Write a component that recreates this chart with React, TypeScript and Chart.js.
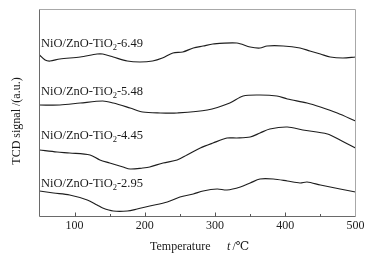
import React, { useEffect, useRef } from "react";
import { Chart, registerables } from "chart.js";

Chart.register(...registerables);

// Temperature (°C) and TCD signal (a.u., arbitrary offset units) for each sample
const x649 = [50, 58, 65, 79, 108, 132, 140, 155, 175, 193, 211, 225, 240, 254, 269, 283, 297, 331, 350, 364, 374, 397, 421, 435, 450, 464, 482, 500];
const y649 = [161.5, 156.5, 155.5, 157.5, 159.5, 162.5, 162.5, 159.5, 155.5, 154.5, 155.5, 158.5, 163.5, 164.5, 168.5, 170.5, 172.5, 173.5, 169.5, 168.5, 170.5, 170.5, 168.5, 165.5, 162.5, 159.5, 158.5, 159.5];

const x548 = [50, 79, 108, 140, 155, 179, 197, 222, 246, 289, 321, 340, 364, 388, 403, 431, 450, 474, 500];
const y548 = [111.5, 111.5, 113.5, 115.5, 113.5, 108.5, 104.5, 103.5, 103.5, 106.5, 113.5, 120.5, 121.5, 120.5, 117.5, 113.5, 109.5, 103.5, 95.5];

const x445 = [50, 75, 93, 122, 136, 150, 169, 179, 197, 207, 226, 246, 260, 279, 297, 317, 331, 350, 364, 378, 403, 425, 460, 478, 500];
const y445 = [66.5, 64.5, 63.5, 61.5, 56.5, 53.5, 49.5, 47.5, 48.5, 49.5, 53.5, 56.5, 61.5, 68.5, 73.5, 78.5, 78.5, 79.5, 83.5, 87.5, 89.5, 86.5, 82.5, 76.5, 68.5];

const x295 = [50, 70, 93, 118, 132, 140, 155, 175, 189, 207, 232, 250, 269, 283, 303, 317, 336, 350, 364, 383, 403, 421, 431, 450, 478, 500];
const y295 = [25.5, 23.5, 21.5, 16.5, 11.5, 8.5, 5.5, 5.5, 7.5, 10.5, 14.5, 19.5, 22.5, 25.5, 27.5, 26.5, 29.5, 33.5, 37.5, 37.5, 35.5, 33.5, 34.5, 31.5, 27.5, 24.5];

const seriesX = [x649, x548, x445, x295];
const seriesY = [y649, y548, y445, y295];

// Curve labels: "NiO/ZnO-TiO" + subscript "2" + suffix
const labelSuffix = ["-6.49", "-5.48", "-4.45", "-2.95"];
const labelX = [52, 52, 52, 52];
const labelY = [170, 121.5, 77.5, 30];

const xTickLabels = [100, 200, 300, 400, 500];

const SERIF = '"Liberation Serif", "Times New Roman", "DejaVu Serif", serif';

const decorPlugin = {
  id: "decor",
  afterDatasetsDraw(chart: any) {
    const { ctx, chartArea, scales } = chart;
    const xs = scales.x;
    const ys = scales.y;
    const { left, right, top, bottom } = chartArea;
    ctx.save();
    // frame
    ctx.lineWidth = 1;
    ctx.strokeStyle = "#a8a8a8";
    ctx.beginPath();
    ctx.moveTo(left, top);
    ctx.lineTo(right, top);
    ctx.lineTo(right, bottom);
    ctx.stroke();
    ctx.strokeStyle = "#6a6a6a";
    ctx.beginPath();
    ctx.moveTo(right, bottom);
    ctx.lineTo(left, bottom);
    ctx.lineTo(left, top);
    ctx.stroke();
    // inward ticks
    ctx.strokeStyle = "#555";
    for (const t of xs.ticks) {
      const v = t.value;
      if (v <= xs.min || v >= xs.max) continue;
      const px = Math.round(xs.getPixelForValue(v)) + 0.5;
      const len = v % 100 === 0 ? 4 : 2.5;
      ctx.beginPath();
      ctx.moveTo(px, bottom);
      ctx.lineTo(px, bottom - len);
      ctx.stroke();
    }
    // curve labels
    ctx.fillStyle = "#1a1a1a";
    ctx.textBaseline = "alphabetic";
    ctx.textAlign = "left";
    for (let i = 0; i < labelSuffix.length; i++) {
      let px = xs.getPixelForValue(labelX[i]);
      const py = ys.getPixelForValue(labelY[i]);
      ctx.font = `12.5px ${SERIF}`;
      const main = "NiO/ZnO-TiO";
      ctx.fillText(main, px, py);
      px += ctx.measureText(main).width;
      ctx.font = `8.5px ${SERIF}`;
      ctx.fillText("2", px, py + 3);
      px += ctx.measureText("2").width;
      ctx.font = `12.5px ${SERIF}`;
      ctx.fillText(labelSuffix[i], px, py);
    }
    // x title
    const cx = (left + right) / 2;
    ctx.font = `12px ${SERIF}`;
    ctx.fillText("Temperature", cx - 47.5, 250);
    ctx.font = `italic 12px ${SERIF}`;
    ctx.fillText("t", cx + 29.5, 250);
    ctx.font = `12px ${SERIF}`;
    ctx.fillText(" /\u2103", cx + 32, 250);
    // y title
    ctx.translate(17, 121);
    ctx.rotate(-Math.PI / 2);
    ctx.textAlign = "center";
    ctx.textBaseline = "middle";
    ctx.font = `12px ${SERIF}`;
    ctx.fillText("TCD signal /(a.u.)", 0, 0);
    ctx.restore();
  },
};

export default function App() {
  const ref = useRef<HTMLCanvasElement | null>(null);
  useEffect(() => {
    if (!ref.current) return;
    const datasets = seriesX.map((xsArr, i) => ({
      data: xsArr.map((x, j) => ({ x, y: seriesY[i][j] })),
      borderColor: "#1e1e1e",
      borderWidth: 1.2,
      pointRadius: 0,
      tension: 0.3,
      fill: false,
    }));
    const chart = new Chart(ref.current, {
      type: "line",
      data: { datasets },
      options: {
        animation: false,
        responsive: false,
        maintainAspectRatio: false,
        layout: { padding: { left: 39.5, top: 9.5, right: 21.5, bottom: 0 } },
        plugins: { legend: { display: false }, tooltip: { enabled: false } },
        scales: {
          x: {
            type: "linear",
            min: 50,
            max: 500,
            grid: { display: false, drawTicks: false },
            border: { display: false },
            afterFit: (s: any) => {
              s.height = 43.5;
            },
            ticks: {
              stepSize: 50,
              autoSkip: false,
              maxRotation: 0,
              padding: 2,
              color: "#222",
              font: { family: SERIF, size: 12 },
              callback: (v: any) => (xTickLabels.includes(Number(v)) ? String(v) : ""),
            },
          },
          y: {
            type: "linear",
            display: false,
            min: 0,
            max: 207,
          },
        },
      },
      plugins: [decorPlugin],
    });
    return () => chart.destroy();
  }, []);
  return (
    <div style={{ position: "fixed", left: 0, top: 0, width: 377, height: 260, background: "#fff" }}>
      <canvas ref={ref} width={377} height={260} style={{ width: 377, height: 260 }} />
    </div>
  );
}
